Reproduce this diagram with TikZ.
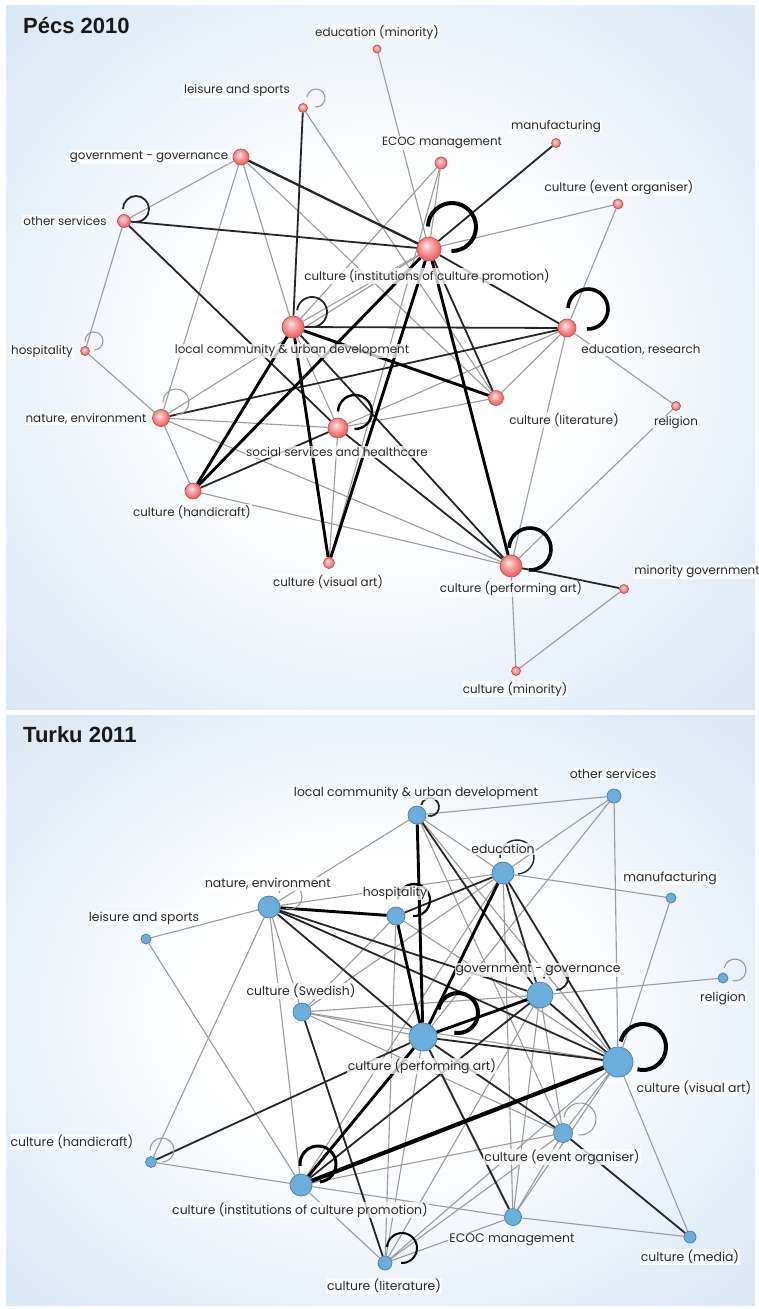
\documentclass[tikz,border=0pt]{standalone}
\usepackage{fontspec}
\setmainfont{Poppins}
\newfontfamily\titlef{Liberation Sans}
\usetikzlibrary{calc}
\definecolor{bgblue}{RGB}{200,220,240}
\definecolor{pnline}{RGB}{200,80,80}
\definecolor{tnfill}{RGB}{108,174,219}
\definecolor{tnline}{RGB}{70,125,170}
\definecolor{edgegray}{RGB}{155,155,155}
\definecolor{txt}{RGB}{40,40,40}
\pgfdeclareradialshading{panelshade}{\pgfpoint{0bp}{0bp}}{color(0bp)=(white); color(12bp)=(white); color(30bp)=(bgblue!55!white); color(50bp)=(bgblue); color(75bp)=(bgblue)}
\pgfdeclareradialshading{pinkball}{\pgfpoint{-6bp}{8bp}}{rgb(0bp)=(1,0.93,0.93); rgb(10bp)=(0.98,0.68,0.68); rgb(25bp)=(0.93,0.40,0.40); rgb(50bp)=(0.90,0.35,0.35)}
\pgfdeclarelayer{bg}
\pgfdeclarelayer{edges}
\pgfsetlayers{bg,edges,main}
\newcommand{\plf}{\fontsize{11.9}{14}\selectfont}
\newcommand{\tlf}{\fontsize{12.4}{15}\selectfont}
\newcommand{\sloop}[5]{%
  \pgfmathsetmacro\sloopang{atan2(#3,#2)}%
  \draw[#5] ([shift={(#2,#3)}]#1.center) ++(\sloopang-135:#4) arc[start angle=\sloopang-135, end angle=\sloopang+135, radius=#4];}
\tikzset{
  pn/.style={circle, inner sep=0pt, draw=pnline, line width=0.7pt, shading=pinkball},
  tn/.style={circle, inner sep=0pt, draw=tnline, line width=0.7pt, fill=tnfill},
  lab/.style={text=txt, fill=white, fill opacity=0.75, text opacity=1, inner sep=1pt},
  plab/.style={lab, font=\plf},
  tlab/.style={lab, font=\tlf},
  eg/.style={draw=edgegray, line width=1.1pt},
  ed/.style={draw=black!85, line width=1.8pt},
  edd/.style={draw=black!85, line width=2.3pt},
  et/.style={draw=black, line width=2.9pt},
  eT/.style={draw=black, line width=4.2pt},
  title/.style={anchor=base west, inner sep=0pt, font=\titlef\bfseries\fontsize{22}{26}\selectfont, text=black!90}
}
\begin{document}
\begin{tikzpicture}[x=1pt,y=-1pt]
\useasboundingbox (0,0) rectangle (759,1309);
\begin{pgfonlayer}{bg}
\fill[white] (0,0) rectangle (759,1309);
\shade[shading=panelshade] (6,5) rectangle (755,709);
\shade[shading=panelshade] (6,715) rectangle (755,1305);
\end{pgfonlayer}

% ---------------- Pecs 2010 ----------------
\node[title] (ptitle) at (23,33) {Pécs 2010};
% labels
\node[plab] (pedumin-l) at (377,32) {education (minority)};
\node[plab] (pleisure-l) at (237,91) {leisure and sports};
\node[plab] (pecoc-l) at (442,143) {ECOC management};
\node[plab] (pmanuf-l) at (556,127) {manufacturing};
\node[plab] (pevent-l) at (619,188) {culture (event organiser)};
\node[plab] (pgovt-l) at (149,157) {government - governance};
\node[plab] (pother-l) at (65,221) {other services};
\node[plab] (phosp-l) at (42,352) {hospitality};
\node[plab] (pcip-l) at (427,276) {culture (institutions of culture promotion)};
\node[plab] (plocal-l) at (292,351) {local community \& urban development};
\node[plab] (pedures-l) at (641,350) {education, research};
\node[plab] (pnature-l) at (86,419) {nature, environment};
\node[plab] (psocial-l) at (337,452) {social services and healthcare};
\node[plab] (plit-l) at (564,420) {culture (literature)};
\node[plab] (preligion-l) at (676,423) {religion};
\node[plab] (phandi-l) at (192,512) {culture (handicraft)};
\node[plab] (pvisual-l) at (328,582) {culture (visual art)};
\node[plab] (pperf-l) at (511,589) {culture (performing art)};
\node[plab] (pmingov-l) at (697,572) {minority government};
\node[plab] (pcmin-l) at (515,689) {culture (minority)};
% nodes
\node[pn, minimum size=8pt] (pedumin) at (377,49) {};
\node[pn, minimum size=9pt] (pleisure) at (303,108) {};
\node[pn, minimum size=16pt] (pgovt) at (241,157) {};
\node[pn, minimum size=13pt] (pother) at (124,221) {};
\node[pn, minimum size=22pt] (plocal) at (293,327) {};
\node[pn, minimum size=9pt] (phosp) at (85,351) {};
\node[pn, minimum size=12pt] (pecoc) at (441,163) {};
\node[pn, minimum size=9pt] (pmanuf) at (556,143) {};
\node[pn, minimum size=10pt] (pevent) at (618,204) {};
\node[pn, minimum size=24pt] (pcip) at (429,249) {};
\node[pn, minimum size=18pt] (pedures) at (567,328) {};
\node[pn, minimum size=17pt] (pnature) at (161,418) {};
\node[pn, minimum size=20pt] (psocial) at (338,428) {};
\node[pn, minimum size=16pt] (phandi) at (193,491) {};
\node[pn, minimum size=11pt] (pvisual) at (329,563) {};
\node[pn, minimum size=15pt] (plit) at (496,398) {};
\node[pn, minimum size=9pt] (preligion) at (676,406) {};
\node[pn, minimum size=22pt] (pperf) at (511,566) {};
\node[pn, minimum size=9pt] (pmingov) at (624,589) {};
\node[pn, minimum size=9pt] (pcmin) at (516,671) {};

\begin{pgfonlayer}{edges}
\foreach \a/\b in {pedumin/pcip, pleisure/plit, pecoc/pcip, pecoc/plocal, pecoc/pvisual,
  pevent/pcip, pevent/pedures, pgovt/pother, pgovt/pnature, pgovt/plocal, pgovt/plit,
  pother/phosp, phosp/pnature, pcip/plocal, pcip/pnature, pnature/phandi, pnature/psocial,
  pnature/pperf, phandi/pperf, psocial/pvisual, psocial/plit, psocial/pedures, pedures/plit,
  pedures/pperf, pedures/preligion, preligion/pperf, pperf/pcmin, pmingov/pcmin, plocal/psocial}
  \draw[eg] (\a) -- (\b);
\foreach \a/\b in {pleisure/plocal, pmanuf/pcip, pother/pcip, pother/psocial, pcip/pedures,
  pcip/plit, plocal/pedures, plocal/pperf, pnature/pedures, phandi/psocial, psocial/pperf,
  pperf/pmingov}
  \draw[ed] (\a) -- (\b);
\draw[edd] (pgovt) -- (pcip);
\foreach \a/\b in {pcip/phandi, pcip/pvisual, pcip/pperf, plocal/plit, plocal/pvisual, plocal/phandi}
  \draw[et] (\a) -- (\b);
% self loops
\sloop{pleisure}{13}{-10}{9}{eg}
\sloop{pother}{12}{-12}{13}{ed}
\sloop{phosp}{9}{-10}{9}{eg}
\sloop{pcip}{23}{-22}{24}{line width=4pt, black}
\sloop{plocal}{19}{-15}{15}{ed}
\sloop{pedures}{21}{-19}{20}{line width=3.6pt, black}
\sloop{pnature}{15}{-16}{13}{eg}
\sloop{psocial}{17}{-16}{17}{line width=2.4pt, black}
\sloop{pperf}{19}{-17}{21}{line width=3.6pt, black}
\end{pgfonlayer}

% ---------------- Turku 2011 ----------------
\node[title] (ttitle) at (23,742) {Turku 2011};
\node[tlab] (tlocal-l) at (416,793) {local community \& urban development};
\node[tlab] (tother-l) at (613,774) {other services};
\node[tlab] (teduc-l) at (503,849) {education};
\node[tlab] (tmanuf-l) at (670,878) {manufacturing};
\node[tlab] (tnature-l) at (268,884) {nature, environment};
\node[tlab] (thosp-l) at (395,893) {hospitality};
\node[tlab] (tleisure-l) at (144,918) {leisure and sports};
\node[tlab] (tgovt-l) at (538,970) {government - governance};
\node[tlab] (treligion-l) at (723,998) {religion};
\node[tlab] (tswed-l) at (301,991) {culture (Swedish)};
\node[tlab] (tperf-l) at (422,1066) {culture (performing art)};
\node[tlab] (tvisual-l) at (694,1088) {culture (visual art)};
\node[tlab] (thandi-l) at (72,1142) {culture (handicraft)};
\node[tlab] (tevent-l) at (562,1157) {culture (event organiser)};
\node[tlab] (tcip-l) at (300,1210) {culture (institutions of culture promotion)};
\node[tlab] (tecoc-l) at (512,1240) {ECOC management};
\node[tlab] (tmedia-l) at (690,1257) {culture (media)};
\node[tlab] (tlit-l) at (384,1286) {culture (literature)};

\node[tn, minimum size=18pt] (tlocal) at (417,815) {};
\node[tn, minimum size=14pt] (tother) at (614,796) {};
\node[tn, minimum size=22pt] (teduc) at (503,873) {};
\node[tn, minimum size=10pt] (tmanuf) at (671,898) {};
\node[tn, minimum size=10pt] (treligion) at (723,978) {};
\node[tn, minimum size=26pt] (tgovt) at (540,995) {};
\node[tn, minimum size=18pt] (thosp) at (396,916) {};
\node[tn, minimum size=22pt] (tnature) at (269,907) {};
\node[tn, minimum size=10pt] (tleisure) at (146,939) {};
\node[tn, minimum size=18pt] (tswed) at (302,1012) {};
\node[tn, minimum size=28pt] (tperf) at (423,1037) {};
\node[tn, minimum size=30pt] (tvisual) at (618,1062) {};
\node[tn, minimum size=11pt] (thandi) at (151,1162) {};
\node[tn, minimum size=19pt] (tevent) at (563,1133) {};
\node[tn, minimum size=22pt] (tcip) at (301,1185) {};
\node[tn, minimum size=17pt] (tecoc) at (513,1217) {};
\node[tn, minimum size=12pt] (tmedia) at (690,1237) {};
\node[tn, minimum size=14pt] (tlit) at (385,1263) {};

\begin{pgfonlayer}{edges}
\foreach \a/\b in {tlocal/tother, tlocal/teduc, tlocal/tnature, tlocal/tevent, tother/teduc,
  tother/tperf, tother/tvisual, teduc/tmanuf, teduc/tnature, teduc/tswed, teduc/tcip,
  tnature/tleisure, tnature/tswed, tnature/tcip, tnature/thandi, tleisure/tcip, thandi/tcip,
  tswed/tperf, tswed/tgovt, tswed/tvisual, tswed/tevent, tperf/tlit, thosp/tvisual, thosp/tswed,
  tgovt/treligion, tgovt/tevent, tgovt/tecoc, tgovt/tlit, tvisual/tevent, tvisual/tmedia,
  tvisual/tecoc, tvisual/tlit, tmanuf/tvisual, tevent/tecoc, tevent/tlit, tecoc/tmedia,
  tecoc/tlit, tcip/tlit, tcip/tecoc, tcip/tevent, teduc/tecoc, thosp/tlit, tlocal/tvisual}
  \draw[eg] (\a) -- (\b);
\foreach \a/\b in {tlocal/tgovt, teduc/tgovt, teduc/tvisual, teduc/thosp, tnature/tgovt,
  tnature/tvisual, tnature/tperf, tswed/tlit, thandi/tperf, tperf/tvisual, tperf/tevent,
  tperf/tecoc, tgovt/tvisual, tevent/tmedia, tcip/tgovt}
  \draw[ed] (\a) -- (\b);
\foreach \a/\b in {tlocal/tperf, teduc/tperf, tnature/thosp, thosp/tperf, tperf/tgovt, tcip/tperf}
  \draw[et] (\a) -- (\b);
\draw[eT] (tcip) -- (tvisual);
\sloop{tlocal}{13}{-8}{9}{ed}
\sloop{teduc}{14}{-16}{17}{draw=black!85, line width=1.4pt}
\sloop{tnature}{21}{-10}{12}{eg}
\sloop{thosp}{18}{-16}{16}{line width=2.2pt, black}
\sloop{tgovt}{16}{-17}{12}{ed}
\sloop{treligion}{12}{-8}{11}{eg}
\sloop{tperf}{35}{-24}{20}{line width=4pt, black}
\sloop{tvisual}{25}{-15}{23}{line width=4pt, black}
\sloop{thandi}{11}{-12}{12}{eg}
\sloop{tevent}{17}{-14}{16}{eg}
\sloop{tcip}{17}{-21}{18}{line width=3pt, black}
\sloop{tlit}{17}{-15}{15}{line width=2pt, black}
\end{pgfonlayer}
\end{tikzpicture}
\end{document}
